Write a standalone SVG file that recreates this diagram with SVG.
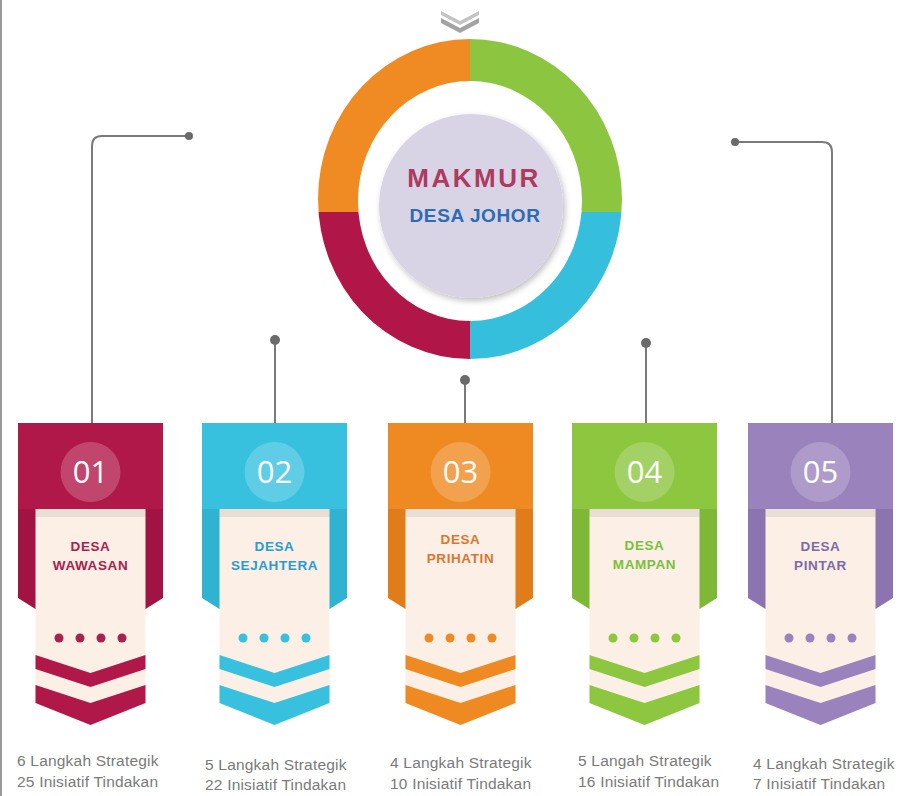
<svg xmlns="http://www.w3.org/2000/svg" width="899" height="796" viewBox="0 0 899 796">
<defs>
<style>
.lbl{font-family:"Liberation Sans",Arial,sans-serif;font-weight:bold;font-size:13.5px;letter-spacing:0.6px;text-anchor:middle}
.num{font-family:"Open Sans","Liberation Sans",sans-serif;font-size:31px;fill:#fff;text-anchor:middle}
.stat{font-family:"Liberation Sans",Arial,sans-serif;font-size:15.5px;letter-spacing:0.2px;fill:#7a7a7a}
.cream{fill:#fbefe6}
.hc{fill:#fff;fill-opacity:0.2}
.wire{fill:none;stroke:#7a7a7a;stroke-width:2}
.dot{fill:#6a6a6a}
</style>
<filter id="sh" x="-20%" y="-20%" width="140%" height="140%">
<feDropShadow dx="2" dy="3" stdDeviation="3" flood-color="#000" flood-opacity="0.25"/>
</filter>
<filter id="sh2" x="-20%" y="-20%" width="140%" height="140%">
<feDropShadow dx="0" dy="2" stdDeviation="2" flood-color="#000" flood-opacity="0.2"/>
</filter>
<clipPath id="ring">
<path clip-rule="evenodd" d="M318,199 a152,160 0 1,0 304,0 a152,160 0 1,0 -304,0 Z M358,201 a112,120 0 1,0 224,0 a112,120 0 1,0 -224,0 Z"/>
</clipPath>
<g id="shape">
<rect x="-55" y="86" width="110" height="8" fill="#000" fill-opacity="0.07"/>
</g>
</defs>
<rect width="899" height="796" fill="#fff"/>
<line x1="1" y1="0" x2="1" y2="796" stroke="#9a9a9a" stroke-width="2"/>

<g id="top-chevron">
<path d="M441,11 L460,21 L479,11 L479,15 L460,25 L441,15 Z" fill="#c4c4c4"/>
<path d="M441,18 L460,28 L479,18 L479,23 L460,33 L441,23 Z" fill="#a3a3a3"/>
</g>

<g id="connectors">
<path class="wire" d="M92,423 V146 Q92,136 102,136 H189"/>
<circle class="dot" cx="189" cy="136" r="4"/>
<path class="wire" d="M275,340 V423"/>
<circle class="dot" cx="275" cy="340" r="5"/>
<path class="wire" d="M465,380 V423"/>
<circle class="dot" cx="465" cy="380" r="5"/>
<path class="wire" d="M646,343 V423"/>
<circle class="dot" cx="646" cy="343" r="5"/>
<path class="wire" d="M735,142 H822 Q832,142 832,152 V423"/>
<circle class="dot" cx="735" cy="142" r="4"/>
</g>

<g id="center">
<g clip-path="url(#ring)" filter="url(#sh2)">
<rect x="300" y="30" width="170" height="182" fill="#ef8b22"/>
<rect x="470" y="30" width="170" height="182" fill="#8cc63f"/>
<rect x="470" y="212" width="170" height="160" fill="#36bfdd"/>
<rect x="300" y="212" width="170" height="160" fill="#b1184a"/>
</g>
<circle cx="471" cy="206" r="92" fill="#d9d3e6" filter="url(#sh)"/>
<text x="474" y="187" text-anchor="middle" font-family="'Liberation Sans',Arial,sans-serif" font-weight="bold" font-size="26" letter-spacing="2.5" fill="#ad3a5f">MAKMUR</text>
<text x="475" y="222" text-anchor="middle" font-family="'Liberation Sans',Arial,sans-serif" font-weight="bold" font-size="19" letter-spacing="0.6" fill="#2b6cb3">DESA JOHOR</text>
</g>

<g id="node1" transform="translate(90.5,423)">
<path d="M-72.5,0 H72.5 V175 L55,186 H-55 L-72.5,175 Z" fill="#a01342"/>
<path class="cream" d="M-55,86 H55 V280 L0,302 L-55,280 Z"/>
<use href="#shape"/>
<path d="M-55,232 L0,250 L55,232 V246 L0,264 L-55,246 Z M-55,262 L0,280 L55,262 V280 L0,302 L-55,280 Z" fill="#b1184a"/>
<rect x="-72.5" y="0" width="145" height="86" fill="#b1184a"/>
<circle class="hc" cx="0" cy="49" r="30"/>
<text class="num" x="0" y="60">01</text>
<text class="lbl" x="0" y="128" fill="#a8224e">DESA</text>
<text class="lbl" x="0" y="147" fill="#a8224e">WAWASAN</text>
<g fill="#a8224e"><circle cx="-31.5" cy="215" r="4.5"/><circle cx="-10.5" cy="215" r="4.5"/><circle cx="10.5" cy="215" r="4.5"/><circle cx="31.5" cy="215" r="4.5"/></g>
</g>

<g id="node2" transform="translate(274.5,423)">
<path d="M-72.5,0 H72.5 V175 L55,186 H-55 L-72.5,175 Z" fill="#2fb3d1"/>
<path class="cream" d="M-55,86 H55 V280 L0,302 L-55,280 Z"/>
<use href="#shape"/>
<path d="M-55,232 L0,250 L55,232 V246 L0,264 L-55,246 Z M-55,262 L0,280 L55,262 V280 L0,302 L-55,280 Z" fill="#38c1df"/>
<rect x="-72.5" y="0" width="145" height="86" fill="#38c1df"/>
<circle class="hc" cx="0" cy="49" r="30"/>
<text class="num" x="0" y="60">02</text>
<text class="lbl" x="0" y="128" fill="#2a9ccf">DESA</text>
<text class="lbl" x="0" y="147" fill="#2a9ccf">SEJAHTERA</text>
<g fill="#38c1df"><circle cx="-31.5" cy="215" r="4.5"/><circle cx="-10.5" cy="215" r="4.5"/><circle cx="10.5" cy="215" r="4.5"/><circle cx="31.5" cy="215" r="4.5"/></g>
</g>

<g id="node3" transform="translate(460.5,423)">
<path d="M-72.5,0 H72.5 V175 L55,186 H-55 L-72.5,175 Z" fill="#e07d1a"/>
<path class="cream" d="M-55,86 H55 V280 L0,302 L-55,280 Z"/>
<use href="#shape"/>
<path d="M-55,232 L0,250 L55,232 V246 L0,264 L-55,246 Z M-55,262 L0,280 L55,262 V280 L0,302 L-55,280 Z" fill="#ef8a22"/>
<rect x="-72.5" y="0" width="145" height="86" fill="#ef8a22"/>
<circle class="hc" cx="0" cy="49" r="30"/>
<text class="num" x="0" y="60">03</text>
<text class="lbl" x="0" y="121" fill="#d9772e">DESA</text>
<text class="lbl" x="0" y="140" fill="#d9772e">PRIHATIN</text>
<g fill="#ef8a22"><circle cx="-31.5" cy="215" r="4.5"/><circle cx="-10.5" cy="215" r="4.5"/><circle cx="10.5" cy="215" r="4.5"/><circle cx="31.5" cy="215" r="4.5"/></g>
</g>

<g id="node4" transform="translate(644.5,423)">
<path d="M-72.5,0 H72.5 V175 L55,186 H-55 L-72.5,175 Z" fill="#7fb836"/>
<path class="cream" d="M-55,86 H55 V280 L0,302 L-55,280 Z"/>
<use href="#shape"/>
<path d="M-55,232 L0,250 L55,232 V246 L0,264 L-55,246 Z M-55,262 L0,280 L55,262 V280 L0,302 L-55,280 Z" fill="#8dc63f"/>
<rect x="-72.5" y="0" width="145" height="86" fill="#8dc63f"/>
<circle class="hc" cx="0" cy="49" r="30"/>
<text class="num" x="0" y="60">04</text>
<text class="lbl" x="0" y="127" fill="#7cbf3d">DESA</text>
<text class="lbl" x="0" y="146" fill="#7cbf3d">MAMPAN</text>
<g fill="#8dc63f"><circle cx="-31.5" cy="215" r="4.5"/><circle cx="-10.5" cy="215" r="4.5"/><circle cx="10.5" cy="215" r="4.5"/><circle cx="31.5" cy="215" r="4.5"/></g>
</g>

<g id="node5" transform="translate(820.5,423)">
<path d="M-72.5,0 H72.5 V175 L55,186 H-55 L-72.5,175 Z" fill="#8c74b0"/>
<path class="cream" d="M-55,86 H55 V280 L0,302 L-55,280 Z"/>
<use href="#shape"/>
<path d="M-55,232 L0,250 L55,232 V246 L0,264 L-55,246 Z M-55,262 L0,280 L55,262 V280 L0,302 L-55,280 Z" fill="#9a83bd"/>
<rect x="-72.5" y="0" width="145" height="86" fill="#9a83bd"/>
<circle class="hc" cx="0" cy="49" r="30"/>
<text class="num" x="0" y="60">05</text>
<text class="lbl" x="0" y="128" fill="#7f6aa6">DESA</text>
<text class="lbl" x="0" y="147" fill="#7f6aa6">PINTAR</text>
<g fill="#9a83bd"><circle cx="-31.5" cy="215" r="4.5"/><circle cx="-10.5" cy="215" r="4.5"/><circle cx="10.5" cy="215" r="4.5"/><circle cx="31.5" cy="215" r="4.5"/></g>
</g>

<g id="stats">
<text class="stat" x="17" y="766">6 Langkah Strategik</text>
<text class="stat" x="17" y="787">25 Inisiatif Tindakan</text>
<text class="stat" x="205" y="770">5 Langkah Strategik</text>
<text class="stat" x="205" y="790">22 Inisiatif Tindakan</text>
<text class="stat" x="390" y="768">4 Langkah Strategik</text>
<text class="stat" x="390" y="789">10 Inisiatif Tindakan</text>
<text class="stat" x="578" y="766">5 Langah Strategik</text>
<text class="stat" x="578" y="787">16 Inisiatif Tindakan</text>
<text class="stat" x="753" y="769">4 Langkah Strategik</text>
<text class="stat" x="753" y="789">7 Inisiatif Tindakan</text>
</g>
</svg>
